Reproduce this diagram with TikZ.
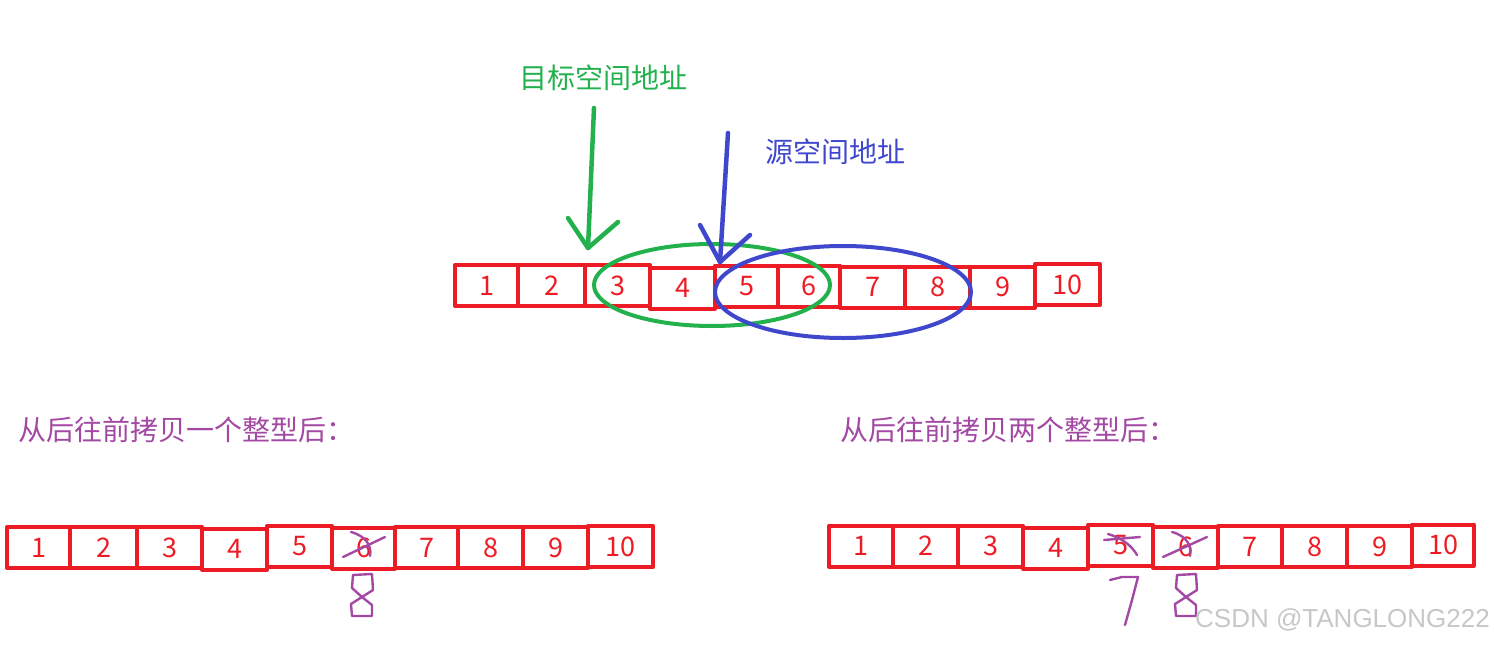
\documentclass[tikz,border=0pt]{standalone}
\usepackage{fontspec}
\setmainfont{Noto Sans CJK SC}
\newfontfamily\wmfont{Liberation Sans}
\definecolor{cellred}{RGB}{237,28,36}
\definecolor{dstgreen}{RGB}{34,177,76}
\definecolor{srcblue}{RGB}{63,72,204}
\definecolor{penpurple}{RGB}{163,73,164}
\begin{document}
\begin{tikzpicture}[x=1pt,y=-1pt,line cap=round,line join=round,
  cell/.style={draw=cellred,line width=4pt,minimum height=41pt,inner sep=0pt,text=cellred,font=\fontsize{27}{27}\selectfont},
  caption/.style={inner sep=0pt,font=\fontsize{28}{28}\selectfont},
  pen/.style={line width=4.5pt},
  scribble/.style={draw=penpurple,line width=2.4pt}]
\useasboundingbox (0,0) rectangle (1494,645);
% memory before copying
\foreach \a/\b/\n/\y in {455/518/1/285.5,518/585/2/285.5,585/650/3/285.5,650/715/4/288,715/778/5/286,778/840/6/286,840/905/7/287,905/970/8/287,970/1035/9/287,1035/1100/10/284.5}{
  \pgfmathsetmacro\w{\b-\a}
  \node[cell,minimum width=\w pt] (t\n) at ({(\a+\b)/2},\y) {\n};
}
\draw[dstgreen,line width=4pt] (712,285) ellipse [x radius=118, y radius=41];
\draw[srcblue,line width=4pt] (843,292) ellipse [x radius=128, y radius=46];
% arrows
\coordinate (G0) at (594,108);
\coordinate (G1) at (588,248);
\coordinate (GL) at (568,218);
\coordinate (GR) at (618,222);
\coordinate (B0) at (728,133);
\coordinate (B1) at (720,262);
\coordinate (BL) at (700,225);
\coordinate (BR) at (750,235);
\draw[pen,dstgreen] (G0) -- (G1);
\draw[pen,dstgreen] (GL) -- (G1) -- (GR);
\draw[pen,srcblue] (B0) -- (B1);
\draw[pen,srcblue] (BL) -- (B1) -- (BR);
\node[caption,text=dstgreen] (dst) at (603,78) {目标空间地址};
\node[caption,text=srcblue,anchor=west] (src) at (765,152) {源空间地址};
% after copying
\node[caption,text=penpurple,anchor=west] (one) at (18,430) {从后往前拷贝一个整型后：};
\node[caption,text=penpurple,anchor=west] (two) at (840,430) {从后往前拷贝两个整型后：};
\foreach \a/\b/\n/\y in {7/70/1/547.5,70/137/2/547.5,137/202/3/547.5,202/267/4/549,267/332/5/546.5,332/395/6/548,395/458/7/547.5,458/523/8/547.5,523/588/9/547.5,588/653/10/546.5}{
  \pgfmathsetmacro\w{\b-\a}
  \node[cell,minimum width=\w pt] (l\n) at ({(\a+\b)/2},\y) {\n};
}
\foreach \a/\b/\n/\y in {829/893/1/546,893/958/2/546,958/1023/3/546,1023/1088/4/548,1088/1153/5/545.5,1153/1218/6/547,1218/1282/7/546.5,1282/1347/8/546.5,1347/1412/9/546.5,1412/1474/10/545}{
  \pgfmathsetmacro\w{\b-\a}
  \node[cell,minimum width=\w pt] (r\n) at ({(\a+\b)/2},\y) {\n};
}
% scribbles
\draw[scribble] (343,557) -- (385,537);
\draw[scribble] (351,532) .. controls (366,536) and (372,546) .. (370,556);
\draw[scribble] (362,597) -- (373,590) -- (372,574) -- (353,575) -- (352,588) -- (362,597) -- (372,605) -- (372,616) -- (352,616) -- (351,604) -- cycle;
\draw[scribble] (1104,540) -- (1140,537);
\draw[scribble] (1108,534) .. controls (1122,538) and (1132,546) .. (1137,555);
\draw[scribble] (1163,557) -- (1207,537);
\draw[scribble] (1172,532) .. controls (1187,536) and (1192,546) .. (1190,556);
\draw[scribble] (1110,580) -- (1122,577) -- (1138,577) -- (1132,600) -- (1125,625);
\draw[scribble] (1186,597) -- (1197,590) -- (1196,574) -- (1177,575) -- (1176,588) -- (1186,597) -- (1196,605) -- (1196,616) -- (1176,616) -- (1175,604) -- cycle;
\node[inner sep=0pt,anchor=east,text=black!22,font=\wmfont\fontsize{26}{26}\selectfont] (mark) at (1490,620) {CSDN @TANGLONG222};
\end{tikzpicture}
\end{document}
